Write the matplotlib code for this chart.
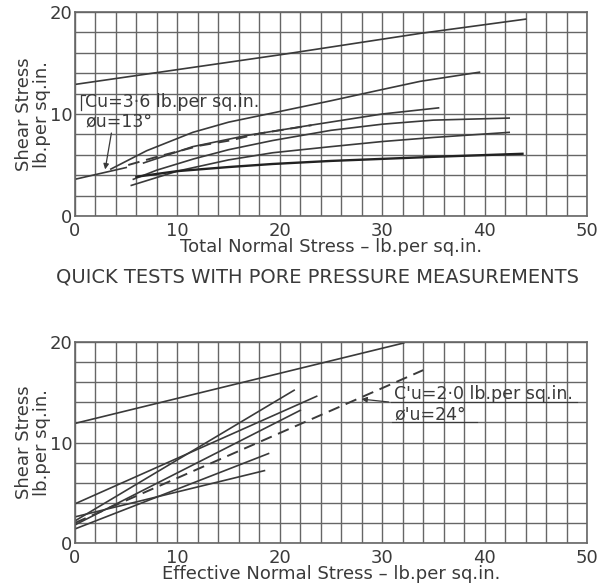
import numpy as np
import matplotlib
matplotlib.use('Agg')
from matplotlib import pyplot as plt

INK = '#3a3a3a'
GRID = '#666666'

# --- quick tests, total stresses (top panel) ---
env_total_x = [0, 5.0]
env_total_y = [3.6, 4.75]
top_a_x = [0, 20, 33.7, 44]
top_a_y = [12.9, 15.8, 17.9, 19.3]
top_b_x = [3.5, 7, 11.5, 15, 19.3, 25, 30, 33.7, 39.5]
top_b_y = [4.6, 6.4, 8.2, 9.2, 10.1, 11.3, 12.4, 13.2, 14.1]
top_c_x = [6.7, 11.5, 16.8, 23, 30, 35.5]
top_c_y = [5.2, 6.8, 7.9, 8.9, 10.0, 10.6]
top_d_x = [5.7, 8, 11.6, 15, 19.3, 25, 30, 35, 42.4]
top_d_y = [3.6, 4.5, 5.6, 6.5, 7.4, 8.4, 9.0, 9.4, 9.6]
top_e_x = [5.5, 10, 15, 19.3, 25, 30, 35, 42.4]
top_e_y = [3.0, 4.4, 5.5, 6.2, 6.8, 7.3, 7.7, 8.2]
top_f_x = [6.0, 10, 15, 19.3, 25, 30, 35, 43.7]
top_f_y = [3.85, 4.4, 4.8, 5.1, 5.4, 5.6, 5.8, 6.1]
top_dash_x = [5.2, 8, 12.2, 15.1, 18.1, 23.1]
top_dash_y = [5.0, 5.8, 6.9, 7.4, 8.1, 8.9]

# --- quick tests with pore pressure, effective stresses (bottom panel) ---
bot_a_x = [0, 32.1]
bot_a_y = [11.9, 19.9]
bot_b_x = [0, 21.4]
bot_b_y = [2.2, 15.2]
bot_c_x = [0, 23.6]
bot_c_y = [3.9, 14.6]
bot_d_x = [0, 22.0]
bot_d_y = [1.8, 13.2]
bot_f_x = [0, 18.9]
bot_f_y = [1.4, 8.9]
bot_g_x = [0, 18.5]
bot_g_y = [2.6, 7.2]
env_eff_x = [0, 34.0]
env_eff_y = [2.0, 17.2]

x_major = [0, 10, 20, 30, 40, 50]
y_major = [0, 10, 20]

plt.rcParams['font.family'] = 'DejaVu Sans'
fig = plt.figure(figsize=(6.12, 5.88), dpi=100)
ax1 = fig.add_axes([75 / 612, 1 - 216 / 588, 512 / 612, 204 / 588])
ax2 = fig.add_axes([75 / 612, 1 - 543 / 588, 512 / 612, 201 / 588])


def setup(ax, xlabel):
    ax.set_xlim(0, 50)
    ax.set_ylim(0, 20)
    ax.set_xticks(x_major)
    ax.set_yticks(y_major)
    ax.set_xticks(np.arange(0, 51, 2), minor=True)
    ax.set_yticks(np.arange(0, 21, 2), minor=True)
    ax.grid(which='both', color=GRID, lw=1.0)
    ax.set_axisbelow(True)
    ax.tick_params(which='both', length=0, labelsize=13, colors=INK)
    ax.tick_params(axis='x', pad=4)
    ax.tick_params(axis='y', pad=2)
    for s in ax.spines.values():
        s.set_color(GRID)
        s.set_linewidth(1.2)
    ax.set_xlabel(xlabel, fontsize=13, color=INK, labelpad=-1)
    ax.set_ylabel('Shear Stress\nlb.per sq.in.', fontsize=13, color=INK,
                  linespacing=1.0)
    ax.yaxis.set_label_coords(-0.046, 0.5)


setup(ax1, 'Total Normal Stress – lb.per sq.in.')
setup(ax2, 'Effective Normal Stress – lb.per sq.in.')

lw = 1.2
ax1.plot(env_total_x, env_total_y, color=INK, lw=lw)
for xs, ys in [(top_a_x, top_a_y), (top_b_x, top_b_y), (top_c_x, top_c_y),
               (top_d_x, top_d_y), (top_e_x, top_e_y)]:
    ax1.plot(xs, ys, color=INK, lw=lw)
ax1.plot(top_f_x, top_f_y, color='#222222', lw=1.7)
ax1.plot(top_dash_x, top_dash_y, color=INK, lw=1.4, dashes=(6, 3.5))

ax1.text(1.0, 11.2, 'Cu=3·6 lb.per sq.in.', fontsize=12.5, color=INK, va='center')
ax1.text(1.0, 9.3, 'øu=13°', fontsize=12.5, color=INK, va='center')
ax1.plot([0.6, 0.6, 1.0], [10.4, 11.9, 11.9], color=INK, lw=0.9)
ax1.annotate('', xy=(2.9, 4.3), xytext=(3.6, 8.4),
             arrowprops=dict(arrowstyle='-|>', color=INK, lw=0.9,
                             mutation_scale=8))

for xs, ys in [(bot_a_x, bot_a_y), (bot_b_x, bot_b_y), (bot_c_x, bot_c_y),
               (bot_d_x, bot_d_y), (bot_f_x, bot_f_y), (bot_g_x, bot_g_y)]:
    ax2.plot(xs, ys, color=INK, lw=lw)
ax2.plot(env_eff_x, env_eff_y, color=INK, lw=1.4, dashes=(6, 3.5))

ax2.text(31.2, 14.8, "C'u=2·0 lb.per sq.in.", fontsize=12.5, color=INK, va='center')
ax2.text(31.2, 12.8, "ø'u=24°", fontsize=12.5, color=INK, va='center')
ax2.plot([30.9, 49.0], [14.0, 14.0], color=INK, lw=0.8)
ax2.plot([31.0, 39.3], [12.0, 12.0], color=INK, lw=0.8)
ax2.annotate('', xy=(27.7, 14.35), xytext=(30.9, 14.0),
             arrowprops=dict(arrowstyle='-|>', color=INK, lw=0.9,
                             mutation_scale=8))

fig.text(0.518, 1 - 277 / 588, 'QUICK TESTS WITH PORE PRESSURE MEASUREMENTS',
         ha='center', va='center', fontsize=14, color=INK)

fig.savefig('out.png', dpi=100, facecolor='white')
